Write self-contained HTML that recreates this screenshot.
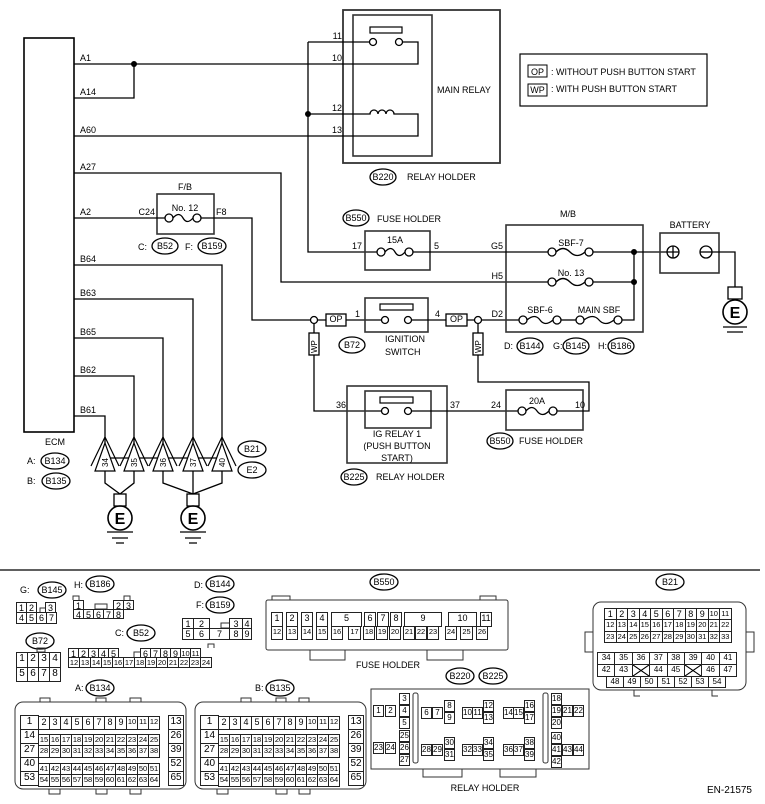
<!DOCTYPE html>
<html><head><meta charset="utf-8">
<style>
body{margin:0;background:#fff;width:765px;height:804px;position:relative;overflow:hidden;font-family:"Liberation Sans",sans-serif;}
svg{position:absolute;left:0;top:0}
.r{position:absolute;display:flex;font-size:9px;color:#000}
.r i{font-style:normal;display:block;border:1px solid #222;margin-left:-1px;box-sizing:border-box;text-align:center;height:100%;background:#fff;overflow:hidden}
.r i.g{border:none;background:transparent;margin-left:0}
.r i.x{background:linear-gradient(to top right,transparent 46%,#000 48%,#000 52%,transparent 54%),linear-gradient(to bottom right,transparent 46%,#000 48%,#000 52%,transparent 54%),#fff}
.s{font-size:7.5px !important}
.c{position:absolute;border:1px solid #222;box-sizing:border-box;width:11px;height:12px;font-size:8px;text-align:center;line-height:10px;background:#fff}
</style></head><body>
<svg width="765" height="804" font-family="Liberation Sans, sans-serif" font-size="9">
<g stroke="#000" stroke-width="1.3" fill="none">
<rect x="24" y="38" width="50" height="394" stroke-width="1.6"/>
<rect x="343" y="10" width="157" height="153" stroke="#333" stroke-width="1.8"/>
<rect x="353" y="15" width="79" height="141" stroke="#333" stroke-width="1.6"/>
<rect x="370" y="27" width="32" height="6" stroke-width="1.2"/>
<circle cx="373" cy="42" r="3.5"/><circle cx="399" cy="42" r="3.5"/>
<path d="M74 64H418V42H402.5"/>
<path d="M134 64V98H74"/>
<path d="M308 42H369.5M308 42V252H377"/>
<path d="M308 114H370a4 4 0 0 1 8 0a4 4 0 0 1 8 0a4 4 0 0 1 8 0H418V136H74"/>
<rect x="520" y="54" width="187" height="52" stroke-width="1.2"/>
<rect x="528" y="65" width="19" height="12" stroke-width="1"/>
<rect x="528" y="84" width="19" height="12" stroke-width="1"/>
<rect x="157" y="194" width="57" height="40" stroke="#333" stroke-width="1.6"/>
<path d="M74 173H281V282H548"/>
<path d="M74 218H165"/>
<circle cx="169" cy="218" r="4"/><circle cx="197" cy="218" r="4"/><path d="M173 218Q179 211 183 218T193 218"/>
<path d="M201 218H252V320H310.5M317.5 320H326M346 320H381.5"/>
<circle cx="314" cy="320" r="3.5"/>
<rect x="326" y="314" width="20" height="12"/>
<rect x="365" y="298" width="63" height="34" stroke="#333" stroke-width="1.6"/>
<rect x="380" y="304" width="33" height="6" stroke-width="1.2"/>
<circle cx="385" cy="320" r="3.5"/><circle cx="408" cy="320" r="3.5"/>
<path d="M411.5 320H446M467 320H474.5M481.5 320H519"/>
<rect x="446" y="314" width="21" height="12"/>
<circle cx="478" cy="320" r="3.5"/>
<rect x="506" y="225" width="137" height="107" stroke="#333" stroke-width="1.6"/>
<circle cx="523" cy="320" r="4"/><circle cx="557" cy="320" r="4"/><path d="M527 320Q535 313 540 320T553 320"/>
<path d="M561 320H576"/>
<circle cx="580" cy="320" r="4"/><circle cx="618" cy="320" r="4"/><path d="M584 320Q593 313 599 320T614 320"/>
<path d="M622 320H634V252"/>
<circle cx="552" cy="282" r="4"/><circle cx="589" cy="282" r="4"/><path d="M556 282Q563 275 570 282T585 282M593 282H634"/>
<rect x="365" y="231" width="65" height="39" stroke="#333" stroke-width="1.6"/>
<circle cx="381" cy="252" r="4"/><circle cx="409" cy="252" r="4"/><path d="M385 252Q391 245 395 252T405 252"/>
<path d="M413 252H548"/>
<circle cx="552" cy="252" r="4"/><circle cx="589" cy="252" r="4"/><path d="M556 252Q563 245 570 252T585 252M593 252H667"/>
<rect x="660" y="233" width="59" height="40" stroke="#333" stroke-width="1.6"/>
<circle cx="673" cy="252" r="6"/><path d="M667 252H679M673 246V258"/>
<circle cx="706" cy="252" r="6"/><path d="M700 252H712"/>
<path d="M712 252H735V287"/>
<rect x="728" y="287" width="14" height="12"/>
<circle cx="735" cy="312" r="12" stroke-width="1.6"/>
<path d="M723 327H747M727 332H743"/>
<path d="M314 323.5V333"/><rect x="309" y="333" width="10" height="22"/>
<path d="M314 355V411H381.5"/>
<rect x="347" y="386" width="100" height="77" stroke="#333" stroke-width="1.6"/>
<rect x="365" y="391" width="66" height="37" stroke="#333" stroke-width="1.6"/>
<rect x="380" y="397" width="33" height="6" stroke-width="1.2"/>
<circle cx="385" cy="411" r="3.5"/><circle cx="408" cy="411" r="3.5"/>
<path d="M411.5 411H518"/>
<rect x="506" y="390" width="77" height="40" stroke="#333" stroke-width="1.6"/>
<circle cx="522" cy="411" r="4"/><circle cx="553" cy="411" r="4"/><path d="M526 411Q532 404 537 411T549 411"/>
<path d="M557 411H589V382H478V355"/>
<rect x="473" y="333" width="10" height="22"/><path d="M478 333V323.5"/>
<path d="M74 265H222V443M74 299H193V443M74 338H163V443M74 376H134V443M74 416H105V443"/>
<path d="M105 458H222"/>
<path d="M105 471V483L120 494M134 471V483L120 494M163 471V483L193 494M193 471V494M222 471V483L193 494"/>
<rect x="114" y="494" width="12" height="12"/><rect x="187" y="494" width="12" height="12"/>
<circle cx="120" cy="518" r="12" stroke-width="1.6"/><circle cx="193" cy="518" r="12" stroke-width="1.6"/>
<path d="M107 532H133M112 538H128M116 543H124M180 532H206M185 538H201M189 543H197"/>
<path d="M0 570H760" stroke-width="1.2"/>
</g>
<g fill="#000" stroke="none">
<circle cx="134" cy="64" r="3"/><circle cx="308" cy="114" r="3"/><circle cx="634" cy="252" r="3"/><circle cx="634" cy="282" r="3"/>
</g>
<g stroke="#000" stroke-width="1.2" fill="#fff">
<polygon points="105,443 95,471 115,471"/><polyline fill="none" points="91,466 105,437 119,466"/>
<polygon points="134,443 124,471 144,471"/><polyline fill="none" points="120,466 134,437 148,466"/>
<polygon points="163,443 153,471 173,471"/><polyline fill="none" points="149,466 163,437 177,466"/>
<polygon points="193,443 183,471 203,471"/><polyline fill="none" points="179,466 193,437 207,466"/>
<polygon points="222,443 212,471 232,471"/><polyline fill="none" points="208,466 222,437 236,466"/>
</g>
<g font-size="8">
<text transform="translate(108,467) rotate(-90)">34</text>
<text transform="translate(137,467) rotate(-90)">35</text>
<text transform="translate(166,467) rotate(-90)">36</text>
<text transform="translate(196,467) rotate(-90)">37</text>
<text transform="translate(225,467) rotate(-90)">40</text>
<text transform="translate(317,353) rotate(-90)">WP</text>
<text transform="translate(481,353) rotate(-90)">WP</text>
</g>
<g font-size="16" font-weight="bold" text-anchor="middle"><text x="120" y="524">E</text><text x="193" y="524">E</text><text x="735" y="318">E</text></g>
<g>
<text x="80" y="61">A1</text><text x="80" y="95">A14</text><text x="80" y="133">A60</text><text x="80" y="170">A27</text><text x="80" y="215">A2</text>
<text x="80" y="262">B64</text><text x="80" y="296">B63</text><text x="80" y="335">B65</text><text x="80" y="373">B62</text><text x="80" y="413">B61</text>
<text x="342" y="39" text-anchor="end">11</text><text x="342" y="61" text-anchor="end">10</text><text x="342" y="111" text-anchor="end">12</text><text x="342" y="133" text-anchor="end">13</text>
<text x="437" y="93">MAIN RELAY</text>
<text x="551" y="75">: WITHOUT PUSH BUTTON START</text><text x="551" y="92">: WITH PUSH BUTTON START</text>
<text x="537.5" y="75" text-anchor="middle">OP</text><text x="537.5" y="93" text-anchor="middle">WP</text>
<text x="185" y="190" text-anchor="middle">F/B</text><text x="185" y="211" text-anchor="middle">No. 12</text>
<text x="155" y="215" text-anchor="end">C24</text><text x="216" y="215">F8</text>
<text x="138" y="250">C:</text><text x="185" y="250">F:</text>
<text x="568" y="217" text-anchor="middle">M/B</text><text x="690" y="228" text-anchor="middle">BATTERY</text>
<text x="571" y="246" text-anchor="middle">SBF-7</text><text x="571" y="276" text-anchor="middle">No. 13</text>
<text x="540" y="313" text-anchor="middle">SBF-6</text><text x="599" y="313" text-anchor="middle">MAIN SBF</text>
<text x="503" y="249" text-anchor="end">G5</text><text x="503" y="279" text-anchor="end">H5</text><text x="503" y="317" text-anchor="end">D2</text>
<text x="352" y="249">17</text><text x="434" y="249">5</text><text x="355" y="317">1</text><text x="435" y="317">4</text>
<text x="336" y="408">36</text><text x="450" y="408">37</text><text x="491" y="408">24</text><text x="575" y="408">10</text>
<text x="395" y="243" text-anchor="middle">15A</text><text x="537" y="404" text-anchor="middle">20A</text>
<text x="336" y="322" text-anchor="middle">OP</text><text x="456.5" y="322" text-anchor="middle">OP</text>
<text x="397" y="437" text-anchor="middle">IG RELAY 1</text><text x="397" y="449" text-anchor="middle">(PUSH BUTTON</text><text x="397" y="461" text-anchor="middle">START)</text>
<text x="385" y="342">IGNITION</text><text x="385" y="355">SWITCH</text>
<text x="407" y="180">RELAY HOLDER</text><text x="377" y="222">FUSE HOLDER</text><text x="376" y="480">RELAY HOLDER</text><text x="519" y="444">FUSE HOLDER</text>
<text x="504" y="349">D:</text><text x="553" y="349">G:</text><text x="598" y="349">H:</text>
<text x="55" y="445" text-anchor="middle">ECM</text><text x="27" y="464">A:</text><text x="27" y="484">B:</text>
</g>
<g stroke="#000" stroke-width="1.3" fill="none">
<ellipse cx="383" cy="177" rx="13" ry="8"/><ellipse cx="356" cy="218" rx="13" ry="8"/><ellipse cx="352" cy="345" rx="13" ry="8"/>
<ellipse cx="354" cy="477" rx="13" ry="8"/><ellipse cx="500" cy="441" rx="13" ry="8"/>
<ellipse cx="530" cy="346" rx="13" ry="8"/><ellipse cx="576" cy="346" rx="13" ry="8"/><ellipse cx="621" cy="346" rx="13" ry="8"/>
<ellipse cx="165" cy="246" rx="13" ry="8"/><ellipse cx="212" cy="246" rx="14" ry="8"/>
<ellipse cx="55" cy="461" rx="14" ry="8"/><ellipse cx="56" cy="481" rx="14" ry="8"/>
<ellipse cx="252" cy="449" rx="14" ry="8"/><ellipse cx="252" cy="470" rx="14" ry="8"/>
<ellipse cx="52" cy="590" rx="14" ry="8"/><ellipse cx="100" cy="584" rx="14" ry="8"/><ellipse cx="220" cy="584" rx="14" ry="8"/><ellipse cx="220" cy="605" rx="14" ry="8"/>
<ellipse cx="141" cy="633" rx="14" ry="8"/><ellipse cx="40" cy="641" rx="14" ry="8"/><ellipse cx="100" cy="688" rx="14" ry="8"/><ellipse cx="280" cy="688" rx="14" ry="8"/>
<ellipse cx="384" cy="582" rx="14" ry="8"/><ellipse cx="460" cy="676" rx="14" ry="8"/><ellipse cx="493" cy="676" rx="14" ry="8"/><ellipse cx="670" cy="582" rx="14" ry="8"/>
</g>
<g text-anchor="middle">
<text x="383" y="180">B220</text><text x="356" y="221">B550</text><text x="352" y="348">B72</text><text x="354" y="480">B225</text><text x="500" y="444">B550</text>
<text x="530" y="349">B144</text><text x="576" y="349">B145</text><text x="621" y="349">B186</text>
<text x="165" y="249">B52</text><text x="212" y="249">B159</text><text x="55" y="464">B134</text><text x="56" y="484">B135</text>
<text x="252" y="452">B21</text><text x="252" y="473">E2</text>
<text x="52" y="593">B145</text><text x="100" y="587">B186</text><text x="220" y="587">B144</text><text x="220" y="608">B159</text>
<text x="141" y="636">B52</text><text x="40" y="644">B72</text><text x="100" y="691">B134</text><text x="280" y="691">B135</text>
<text x="384" y="585">B550</text><text x="460" y="679">B220</text><text x="493" y="679">B225</text><text x="670" y="585">B21</text>
</g>
<g>
<text x="20" y="593">G:</text><text x="74" y="588">H:</text><text x="194" y="588">D:</text><text x="196" y="608">F:</text><text x="115" y="636">C:</text>
<text x="75" y="691">A:</text><text x="255" y="691">B:</text>
<text x="388" y="668" text-anchor="middle">FUSE HOLDER</text><text x="485" y="791" text-anchor="middle">RELAY HOLDER</text>
<text x="752" y="793" text-anchor="end" font-size="10">EN-21575</text>
</g>
<g stroke="#333" stroke-width="1" fill="none">
<rect x="15" y="702" width="171" height="87" rx="8"/><rect x="195" y="702" width="171" height="87" rx="8"/>
<path d="M40 702V698H50V702M96 702V698H106V702M130 702V698H141V702M49 789V794H60V789M96 789V794H107V789M130 789V794H141V789"/>
<path d="M241 702V698H251V702M276 702V698H286V702M299 702V698H309V702M217 789V794H228V789M276 789V794H287V789M299 789V794H310V789"/>
<rect x="266" y="600" width="242" height="50" rx="2"/>
<path d="M310 650V660H345V650M427 650V660H463V650M272 600V596H290V600M480 600V596H496V600"/>
<rect x="371" y="689" width="218" height="80"/>
<rect x="413" y="693" width="5" height="70" rx="2"/><rect x="543" y="693" width="5" height="70" rx="2"/>
<path d="M423 769V777H462V769M500 769V777H536V769"/>
<rect x="593" y="602" width="153" height="88" rx="8"/>
<path d="M593 632H585V652H593M746 632H754V652H746M634 690V696H640M712 690V696H718"/>
<path d="M40 608h8v5h-8zM95 604h12v5h-12zM221 623h12v5h-12zM134 657v-5h10v5M37 648h8v4h-8zM73 600v-4h6v4M124 600v-4h6v4M208 648v-4h6v4"/>
</g>
</svg>

<!-- G:B145 -->
<div class="r" style="left:17px;top:602px;height:11px"><i style="width:11px">1</i><i style="width:11px">2</i><i class="g" style="width:9px"></i><i style="width:11px">3</i></div>
<div class="r" style="left:17px;top:612px;height:12px"><i style="width:11px">4</i><i style="width:11px">5</i><i style="width:11px">6</i><i style="width:11px">7</i></div>
<!-- H:B186 -->
<div class="r" style="left:74px;top:600px;height:10px"><i style="width:11px">1</i><i class="g" style="width:30px"></i><i style="width:11px">2</i><i style="width:11px">3</i></div>
<div class="r" style="left:74px;top:609px;height:10px"><i style="width:11px">4</i><i style="width:11px">5</i><i style="width:11px">6</i><i style="width:11px">7</i><i style="width:11px">8</i></div>
<!-- F:B159 -->
<div class="r" style="left:183px;top:618px;height:11px"><i style="width:12px">1</i><i style="width:17px">2</i><i class="g" style="width:20px"></i><i style="width:14px">3</i><i style="width:10px">4</i></div>
<div class="r" style="left:183px;top:628px;height:12px"><i style="width:12px">5</i><i style="width:17px">6</i><i style="width:21px">7</i><i style="width:14px">8</i><i style="width:10px">9</i></div>
<!-- C:B52 -->
<div class="r" style="left:69px;top:648px;height:10px"><i style="width:11px">1</i><i style="width:11px">2</i><i style="width:11px">3</i><i style="width:11px">4</i><i style="width:11px">5</i><i class="g" style="width:22px"></i><i style="width:11px">6</i><i style="width:11px">7</i><i style="width:11px">8</i><i style="width:11px">9</i><i class="s" style="width:11px">10</i><i class="s" style="width:11px">11</i></div>
<div class="r s" style="left:69px;top:657px;height:11px;font-size:7.5px"><i style="width:12px">12</i><i style="width:12px">13</i><i style="width:12px">14</i><i style="width:12px">15</i><i style="width:12px">16</i><i style="width:12px">17</i><i style="width:12px">18</i><i style="width:12px">19</i><i style="width:12px">20</i><i style="width:12px">21</i><i style="width:12px">22</i><i style="width:12px">23</i><i style="width:12px">24</i></div>
<!-- B72 -->
<div class="r" style="left:17px;top:652px;height:16px;font-size:10px"><i style="width:12px">1</i><i style="width:12px">2</i><i style="width:12px">3</i><i style="width:12px">4</i></div>
<div class="r" style="left:17px;top:667px;height:15px;font-size:10px"><i style="width:12px">5</i><i style="width:12px">6</i><i style="width:12px">7</i><i style="width:12px">8</i></div>

<!-- A:B134 -->
<div class="r" style="left:20px;top:715px;height:71px;flex-direction:column;font-size:10px"><i style="width:19px;margin:0 0 -1px 0;height:15px">1</i><i style="width:19px;margin:0 0 -1px 0;height:15px">14</i><i style="width:19px;margin:0 0 -1px 0;height:15px">27</i><i style="width:19px;margin:0 0 -1px 0;height:15px">40</i><i style="width:19px;margin:0;height:15px">53</i></div>
<div class="r" style="left:39px;top:716px;height:14px"><i style="width:12px">2</i><i style="width:12px">3</i><i style="width:12px">4</i><i style="width:12px">5</i><i style="width:12px">6</i><i style="width:12px">7</i><i style="width:12px">8</i><i style="width:12px">9</i><i class="s" style="width:12px">10</i><i class="s" style="width:12px">11</i><i class="s" style="width:12px">12</i></div>
<div class="r s" style="left:39px;top:734px;height:12px;font-size:7.5px"><i style="width:12px">15</i><i style="width:12px">16</i><i style="width:12px">17</i><i style="width:12px">18</i><i style="width:12px">19</i><i style="width:12px">20</i><i style="width:12px">21</i><i style="width:12px">22</i><i style="width:12px">23</i><i style="width:12px">24</i><i style="width:12px">25</i></div>
<div class="r s" style="left:39px;top:745px;height:13px;font-size:7.5px"><i style="width:12px">28</i><i style="width:12px">29</i><i style="width:12px">30</i><i style="width:12px">31</i><i style="width:12px">32</i><i style="width:12px">33</i><i style="width:12px">34</i><i style="width:12px">35</i><i style="width:12px">36</i><i style="width:12px">37</i><i style="width:12px">38</i></div>
<div class="r s" style="left:39px;top:763px;height:12px;font-size:7.5px"><i style="width:12px">41</i><i style="width:12px">42</i><i style="width:12px">43</i><i style="width:12px">44</i><i style="width:12px">45</i><i style="width:12px">46</i><i style="width:12px">47</i><i style="width:12px">48</i><i style="width:12px">49</i><i style="width:12px">50</i><i style="width:12px">51</i></div>
<div class="r s" style="left:39px;top:774px;height:13px;font-size:7.5px"><i style="width:12px">54</i><i style="width:12px">55</i><i style="width:12px">56</i><i style="width:12px">57</i><i style="width:12px">58</i><i style="width:12px">59</i><i style="width:12px">60</i><i style="width:12px">61</i><i style="width:12px">62</i><i style="width:12px">63</i><i style="width:12px">64</i></div>
<div class="r" style="left:168px;top:715px;height:71px;flex-direction:column;font-size:10px"><i style="width:16px;margin:0 0 -1px 0;height:15px">13</i><i style="width:16px;margin:0 0 -1px 0;height:15px">26</i><i style="width:16px;margin:0 0 -1px 0;height:15px">39</i><i style="width:16px;margin:0 0 -1px 0;height:15px">52</i><i style="width:16px;margin:0;height:15px">65</i></div>

<!-- B:B135 -->
<div class="r" style="left:200px;top:715px;height:71px;flex-direction:column;font-size:10px"><i style="width:19px;margin:0 0 -1px 0;height:15px">1</i><i style="width:19px;margin:0 0 -1px 0;height:15px">14</i><i style="width:19px;margin:0 0 -1px 0;height:15px">27</i><i style="width:19px;margin:0 0 -1px 0;height:15px">40</i><i style="width:19px;margin:0;height:15px">53</i></div>
<div class="r" style="left:219px;top:716px;height:14px"><i style="width:12px">2</i><i style="width:12px">3</i><i style="width:12px">4</i><i style="width:12px">5</i><i style="width:12px">6</i><i style="width:12px">7</i><i style="width:12px">8</i><i style="width:12px">9</i><i class="s" style="width:12px">10</i><i class="s" style="width:12px">11</i><i class="s" style="width:12px">12</i></div>
<div class="r s" style="left:219px;top:734px;height:12px;font-size:7.5px"><i style="width:12px">15</i><i style="width:12px">16</i><i style="width:12px">17</i><i style="width:12px">18</i><i style="width:12px">19</i><i style="width:12px">20</i><i style="width:12px">21</i><i style="width:12px">22</i><i style="width:12px">23</i><i style="width:12px">24</i><i style="width:12px">25</i></div>
<div class="r s" style="left:219px;top:745px;height:13px;font-size:7.5px"><i style="width:12px">28</i><i style="width:12px">29</i><i style="width:12px">30</i><i style="width:12px">31</i><i style="width:12px">32</i><i style="width:12px">33</i><i style="width:12px">34</i><i style="width:12px">35</i><i style="width:12px">36</i><i style="width:12px">37</i><i style="width:12px">38</i></div>
<div class="r s" style="left:219px;top:763px;height:12px;font-size:7.5px"><i style="width:12px">41</i><i style="width:12px">42</i><i style="width:12px">43</i><i style="width:12px">44</i><i style="width:12px">45</i><i style="width:12px">46</i><i style="width:12px">47</i><i style="width:12px">48</i><i style="width:12px">49</i><i style="width:12px">50</i><i style="width:12px">51</i></div>
<div class="r s" style="left:219px;top:774px;height:13px;font-size:7.5px"><i style="width:12px">54</i><i style="width:12px">55</i><i style="width:12px">56</i><i style="width:12px">57</i><i style="width:12px">58</i><i style="width:12px">59</i><i style="width:12px">60</i><i style="width:12px">61</i><i style="width:12px">62</i><i style="width:12px">63</i><i style="width:12px">64</i></div>
<div class="r" style="left:348px;top:715px;height:71px;flex-direction:column;font-size:10px"><i style="width:16px;margin:0 0 -1px 0;height:15px">13</i><i style="width:16px;margin:0 0 -1px 0;height:15px">26</i><i style="width:16px;margin:0 0 -1px 0;height:15px">39</i><i style="width:16px;margin:0 0 -1px 0;height:15px">52</i><i style="width:16px;margin:0;height:15px">65</i></div>

<!-- B550 -->
<div class="r" style="left:272px;top:612px;height:15px"><i style="width:12px">1</i><i class="g" style="width:4px"></i><i style="width:12px">2</i><i class="g" style="width:4px"></i><i style="width:12px">3</i><i class="g" style="width:4px"></i><i style="width:12px">4</i><i class="g" style="width:4px"></i><i style="width:31px">5</i><i class="g" style="width:3px"></i><i style="width:12px">6</i><i class="g" style="width:2px"></i><i style="width:12px">7</i><i class="g" style="width:2px"></i><i style="width:12px">8</i><i class="g" style="width:3px"></i><i style="width:38px">9</i><i class="g" style="width:7px"></i><i style="width:29px">10</i><i class="g" style="width:4px"></i><i style="width:12px">11</i></div>
<div class="r s" style="left:272px;top:626px;height:14px;font-size:7.5px"><i style="width:12px">12</i><i class="g" style="width:4px"></i><i style="width:12px">13</i><i class="g" style="width:4px"></i><i style="width:12px">14</i><i class="g" style="width:4px"></i><i style="width:12px">15</i><i class="g" style="width:4px"></i><i style="width:12px">16</i><i class="g" style="width:6px"></i><i style="width:13px">17</i><i class="g" style="width:3px"></i><i style="width:12px">18</i><i class="g" style="width:2px"></i><i style="width:12px">19</i><i class="g" style="width:2px"></i><i style="width:12px">20</i><i class="g" style="width:3px"></i><i style="width:12px">21</i><i class="g" style="width:1px"></i><i style="width:12px">22</i><i class="g" style="width:1px"></i><i style="width:12px">23</i><i class="g" style="width:7px"></i><i style="width:12px">24</i><i class="g" style="width:4px"></i><i style="width:13px">25</i><i class="g" style="width:4px"></i><i style="width:12px">26</i></div>

<!-- Relay holder -->
<div class="c" style="left:399px;top:693px">3</div>
<div class="c" style="left:373px;top:705px">1</div><div class="c" style="left:385px;top:705px">2</div><div class="c" style="left:399px;top:705px">4</div>
<div class="c" style="left:399px;top:717px">5</div>
<div class="c" style="left:399px;top:730px">25</div>
<div class="c" style="left:373px;top:742px">23</div><div class="c" style="left:385px;top:742px">24</div><div class="c" style="left:399px;top:742px">26</div>
<div class="c" style="left:399px;top:754px">27</div>
<div class="c" style="left:421px;top:707px">6</div><div class="c" style="left:432px;top:707px">7</div><div class="c" style="left:444px;top:700px">8</div><div class="c" style="left:444px;top:712px">9</div>
<div class="c" style="left:421px;top:744px">28</div><div class="c" style="left:432px;top:744px">29</div><div class="c" style="left:444px;top:737px">30</div><div class="c" style="left:444px;top:749px">31</div>
<div class="c" style="left:462px;top:707px">10</div><div class="c" style="left:472px;top:707px">11</div><div class="c" style="left:483px;top:700px">12</div><div class="c" style="left:483px;top:712px">13</div>
<div class="c" style="left:462px;top:744px">32</div><div class="c" style="left:472px;top:744px">33</div><div class="c" style="left:483px;top:737px">34</div><div class="c" style="left:483px;top:749px">35</div>
<div class="c" style="left:503px;top:707px">14</div><div class="c" style="left:513px;top:707px">15</div><div class="c" style="left:524px;top:700px">16</div><div class="c" style="left:524px;top:712px">17</div>
<div class="c" style="left:503px;top:744px">36</div><div class="c" style="left:513px;top:744px">37</div><div class="c" style="left:524px;top:737px">38</div><div class="c" style="left:524px;top:749px">39</div>
<div class="c" style="left:551px;top:693px">18</div><div class="c" style="left:551px;top:705px">19</div><div class="c" style="left:562px;top:705px">21</div><div class="c" style="left:573px;top:705px">22</div><div class="c" style="left:551px;top:717px">20</div>
<div class="c" style="left:551px;top:732px">40</div><div class="c" style="left:551px;top:744px">41</div><div class="c" style="left:562px;top:744px">43</div><div class="c" style="left:573px;top:744px">44</div><div class="c" style="left:551px;top:756px">42</div>

<!-- B21 -->
<div class="r" style="left:605px;top:608px;height:12px"><i style="width:12.5px">1</i><i style="width:12.5px">2</i><i style="width:12.5px">3</i><i style="width:12.5px">4</i><i style="width:12.5px">5</i><i style="width:12.5px">6</i><i style="width:12.5px">7</i><i style="width:12.5px">8</i><i style="width:12.5px">9</i><i class="s" style="width:12.5px">10</i><i class="s" style="width:12.5px">11</i></div>
<div class="r s" style="left:605px;top:619px;height:13px;font-size:8px"><i style="width:12.5px">12</i><i style="width:12.5px">13</i><i style="width:12.5px">14</i><i style="width:12.5px">15</i><i style="width:12.5px">16</i><i style="width:12.5px">17</i><i style="width:12.5px">18</i><i style="width:12.5px">19</i><i style="width:12.5px">20</i><i style="width:12.5px">21</i><i style="width:12.5px">22</i></div>
<div class="r s" style="left:605px;top:631px;height:12px;font-size:8px"><i style="width:12.5px">23</i><i style="width:12.5px">24</i><i style="width:12.5px">25</i><i style="width:12.5px">26</i><i style="width:12.5px">27</i><i style="width:12.5px">28</i><i style="width:12.5px">29</i><i style="width:12.5px">30</i><i style="width:12.5px">31</i><i style="width:12.5px">32</i><i style="width:12.5px">33</i></div>
<div class="r" style="left:598px;top:652px;height:13px;font-size:8px"><i style="width:18.4px">34</i><i style="width:18.4px">35</i><i style="width:18.4px">36</i><i style="width:18.4px">37</i><i style="width:18.4px">38</i><i style="width:18.4px">39</i><i style="width:18.4px">40</i><i style="width:18.4px">41</i></div>
<div class="r" style="left:598px;top:664px;height:13px;font-size:8px"><i style="width:18.4px">42</i><i style="width:18.4px">43</i><i class="x" style="width:18.4px"></i><i style="width:18.4px">44</i><i style="width:18.4px">45</i><i class="x" style="width:18.4px"></i><i style="width:18.4px">46</i><i style="width:18.4px">47</i></div>
<div class="r" style="left:607px;top:676px;height:12px;font-size:8px"><i style="width:18px">48</i><i style="width:18px">49</i><i style="width:18px">50</i><i style="width:18px">51</i><i style="width:18px">52</i><i style="width:18px">53</i><i style="width:18px">54</i></div>
</body></html>
